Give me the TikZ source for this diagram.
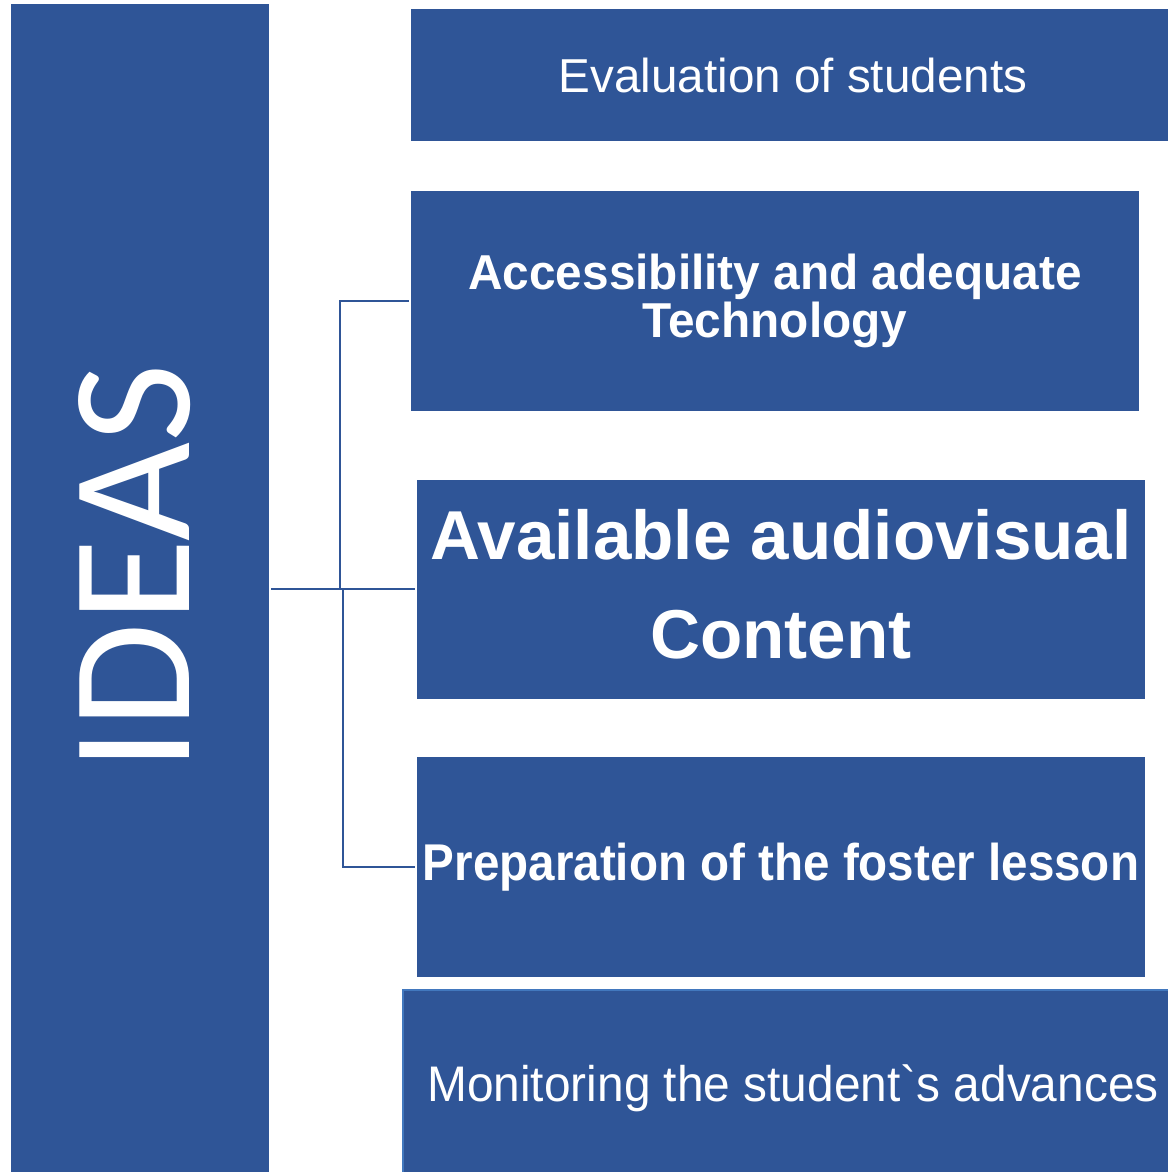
\documentclass[tikz,border=0pt]{standalone}
\usepackage{fontspec}
\setmainfont{Liberation Sans}
\newfontfamily\ideasfont{Carlito}
\newfontfamily\accfont[FakeStretch=0.975]{Liberation Sans}
\newfontfamily\prepfont[FakeStretch=0.92]{Liberation Sans}
\newfontfamily\monitfont[FakeStretch=0.957]{Liberation Sans}
\definecolor{ideablue}{RGB}{47,85,151}
\definecolor{edgeblue}{RGB}{66,120,190}

\begin{document}
\begin{tikzpicture}[x=1pt,y=-1pt,
  box/.style={rectangle,fill=ideablue,inner sep=0pt,text=white,align=center},
  link/.style={draw=ideablue,line width=2pt,shorten >=2pt}]
\useasboundingbox (0,0) rectangle (1167,1172);
% left column
\node[box,minimum width=258,minimum height=1170] (ideas) at (140,589) {};
\node[rotate=90,text=white,inner sep=0pt,font=\ideasfont\fontsize{171}{171}\selectfont] (ideaslabel) at (134.5,567.5) {IDEAS};
% right column
\node[box,minimum width=764,minimum height=132,font=\fontsize{47.6}{57}\selectfont] (eval) at (793,75) {Evaluation of students};
\node[box,minimum width=728,minimum height=220,font=\accfont\bfseries\fontsize{49}{48}\selectfont] (access) at (775,301) {Accessibility and adequate\\Technology};
\node[box,minimum width=728,minimum height=219,text depth=10pt,font=\bfseries\fontsize{69.2}{99}\selectfont] (avail) at (781,589) {Available audiovisual\\Content};
\node[box,minimum width=728,minimum height=220,font=\prepfont\bfseries\fontsize{51.7}{62}\selectfont] (prep) at (781,867) {Preparation of the foster lesson};
\node[box,draw=edgeblue,line width=1.5pt,minimum width=780,minimum height=196,font=\monitfont\fontsize{50}{60}\selectfont] (monit) at (793,1088) {Monitoring the student`s advances};
% connectors
\coordinate (forkup) at (340,589);
\coordinate (forkdown) at (343,589);
\draw[link,shorten <=2pt] (ideas.east) -- (avail.west);
\draw[link] (forkup) |- (access.west);
\draw[link] (forkdown) |- (prep.west);
\end{tikzpicture}
\end{document}
